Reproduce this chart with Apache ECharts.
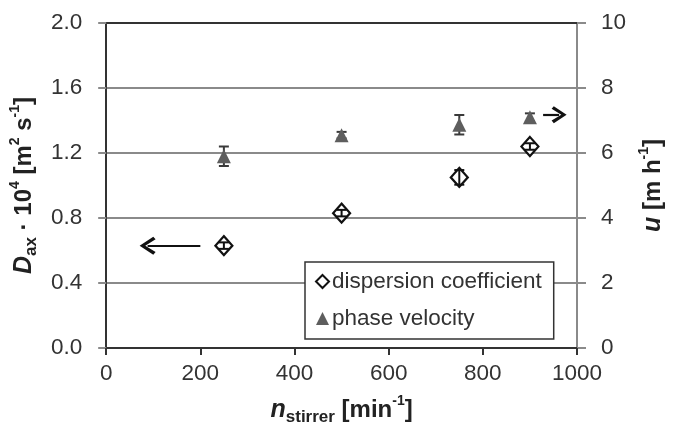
<!DOCTYPE html>
<html>
<head>
<meta charset="utf-8">
<style>
html, body { margin: 0; padding: 0; background: #fff; }
#chartElem { width: 676px; height: 431px; }
</style>
</head>
<body>
<div id="chartElem"></div>
<script src="https://cdn.jsdelivr.net/npm/echarts@6/dist/echarts.min.js"></script>
<script>

// stirrer speed [min-1]
let nStirrer = [250, 500, 750, 900];

// axial dispersion coefficient D_ax * 10^4 [m2 s-1], with error
let dispersion = [0.63, 0.83, 1.05, 1.24];
let dispersionErr = [0.02, 0.02, 0.045, 0.02];

// phase velocity u [m h-1], with error
let velocity = [5.9, 6.55, 6.87, 7.1];
let velocityErr = [0.3, 0.1, 0.3, 0.12];

let fontFamily = "Liberation Sans, Arial, sans-serif";
let gridColor = "#8a8a8a";
let axisColor = "#333";

let chart = echarts.init(document.getElementById("chartElem"));

chart.setOption(buildOption());


function errorBars(values, errs, yIndex, color, z) {
	return {
		type: "custom",
		xAxisIndex: 0,
		yAxisIndex: yIndex,
		z: z,
		silent: true,
		data: nStirrer.map((x, i) => [x, values[i] - errs[i], values[i] + errs[i]]),
		encode: {x: 0, y: [1, 2]},
		renderItem(params, api) {
			let lo = api.coord([api.value(0), api.value(1)]),
				hi = api.coord([api.value(0), api.value(2)]),
				w = 5,
				style = {stroke: color, lineWidth: 2};
			
			return {
				type: "group",
				children: [
					{type: "line", shape: {x1: lo[0], y1: lo[1], x2: hi[0], y2: hi[1]}, style},
					{type: "line", shape: {x1: lo[0] - w, y1: lo[1], x2: lo[0] + w, y2: lo[1]}, style},
					{type: "line", shape: {x1: hi[0] - w, y1: hi[1], x2: hi[0] + w, y2: hi[1]}, style}
				]
			};
		}
	};
}

function buildOption() {
	// open chevron pointing "up" in symbol space, markLine rotates it
	let chevron = "path://M5,0 L10,8.2 L8.5,9.6 L5,3.4 L1.5,9.6 L0,8.2 Z";
	
	let nameRich = {
		b: {fontFamily, fontSize: 24, fontWeight: "bold", color: "#222", lineHeight: 32},
		i: {fontFamily, fontSize: 25, fontWeight: "bold", fontStyle: "italic", color: "#222", lineHeight: 32},
		sub: {fontFamily, fontSize: 17, fontWeight: "bold", color: "#222", lineHeight: 18, verticalAlign: "bottom"},
		sup: {fontFamily, fontSize: 14, fontWeight: "bold", color: "#222", lineHeight: 16, verticalAlign: "top"}
	};
	
	return {
		animation: false,
		grid: {left: 106, right: 99, top: 23, bottom: 82},
		legend: {
			orient: "vertical",
			left: 305,
			top: 262,
			backgroundColor: "#fff",
			borderColor: axisColor,
			borderWidth: 1.5,
			borderRadius: 0,
			padding: [8, 12, 9, 10],
			itemGap: 14,
			itemWidth: 13,
			itemHeight: 13,
			textStyle: {fontFamily, fontSize: 22.5, color: "#333", padding: [0, 0, 0, -2]},
			data: [
				{name: "dispersion coefficient", icon: "diamond", itemStyle: {color: "#fff", borderColor: "#111", borderWidth: 2}},
				{name: "phase velocity", icon: "triangle", itemStyle: {color: "#5e5e5e"}}
			]
		},
		xAxis: [
			{
				type: "value",
				min: 0,
				max: 1000,
				interval: 200,
				name: "{i|n}{sub|stirrer}{b| [min}{sup|-1}{b|]}",
				nameLocation: "middle",
				nameGap: 46,
				nameTextStyle: {rich: nameRich},
				axisLine: {onZero: false, lineStyle: {color: axisColor, width: 2}},
				axisTick: {show: true, length: 7, lineStyle: {color: axisColor, width: 2}},
				axisLabel: {fontFamily, fontSize: 22.5, color: "#333", margin: 14, formatter: v => String(v)},
				splitLine: {show: false}
			},
			{
				type: "value",
				position: "top",
				min: 0,
				max: 1000,
				axisLine: {show: true, onZero: false, lineStyle: {color: axisColor, width: 2}},
				axisTick: {show: false},
				axisLabel: {show: false},
				splitLine: {show: false}
			}
		],
		yAxis: [
			{
				type: "value",
				min: 0,
				max: 2,
				interval: 0.4,
				position: "left",
				name: "{i|D}{sub|ax}{b| · 10}{sup|4}{b| [m}{sup|2}{b| s}{sup|-1}{b|]}",
				nameLocation: "middle",
				nameRotate: 90,
				nameGap: 58,
				nameTextStyle: {rich: nameRich},
				axisLine: {show: true, onZero: false, lineStyle: {color: axisColor, width: 2}},
				axisTick: {show: true, length: 8, lineStyle: {color: gridColor, width: 2}},
				axisLabel: {fontFamily, fontSize: 22.5, color: "#333", margin: 24, formatter: v => v.toFixed(1)},
				splitLine: {show: true, lineStyle: {color: gridColor, width: 2}}
			},
			{
				type: "value",
				min: 0,
				max: 10,
				interval: 2,
				position: "right",
				name: "{i|u}{b| [m h}{sup|-1}{b|]}",
				nameLocation: "middle",
				nameRotate: 90,
				nameGap: 60,
				nameTextStyle: {rich: nameRich},
				axisLine: {show: true, onZero: false, lineStyle: {color: gridColor, width: 2}},
				axisTick: {show: true, length: 9, lineStyle: {color: gridColor, width: 2}},
				axisLabel: {fontFamily, fontSize: 22.5, color: "#333", margin: 24},
				splitLine: {show: false}
			}
		],
		series: [
			errorBars(velocity, velocityErr, 1, "#3a3a3a", 3),
			{
				name: "phase velocity",
				type: "scatter",
				yAxisIndex: 1,
				z: 4,
				symbol: "triangle",
				symbolSize: [14, 14],
				itemStyle: {color: "#5e5e5e", opacity: 1},
				data: nStirrer.map((x, i) => [x, velocity[i]]),
				markLine: {
					silent: true,
					symbol: ["none", chevron],
					symbolSize: [17, 15],
					label: {show: false},
					lineStyle: {color: "#111", width: 2.2, type: "solid"},
					data: [[{coord: [928, 7.18]}, {coord: [962, 7.18]}]]
				}
			},
			{
				name: "dispersion coefficient",
				type: "scatter",
				yAxisIndex: 0,
				z: 5,
				symbol: "diamond",
				symbolSize: [17, 19],
				itemStyle: {color: "#fff", borderColor: "#111", borderWidth: 2.2, opacity: 1},
				data: nStirrer.map((x, i) => [x, dispersion[i]]),
				markLine: {
					silent: true,
					symbol: ["none", chevron],
					symbolSize: [18, 16],
					label: {show: false},
					lineStyle: {color: "#111", width: 2.2, type: "solid"},
					data: [[{coord: [200, 0.63]}, {coord: [88, 0.63]}]]
				}
			},
			errorBars(dispersion, dispersionErr, 0, "#111", 6)
		]
	};
}

</script>
</body>
</html>
